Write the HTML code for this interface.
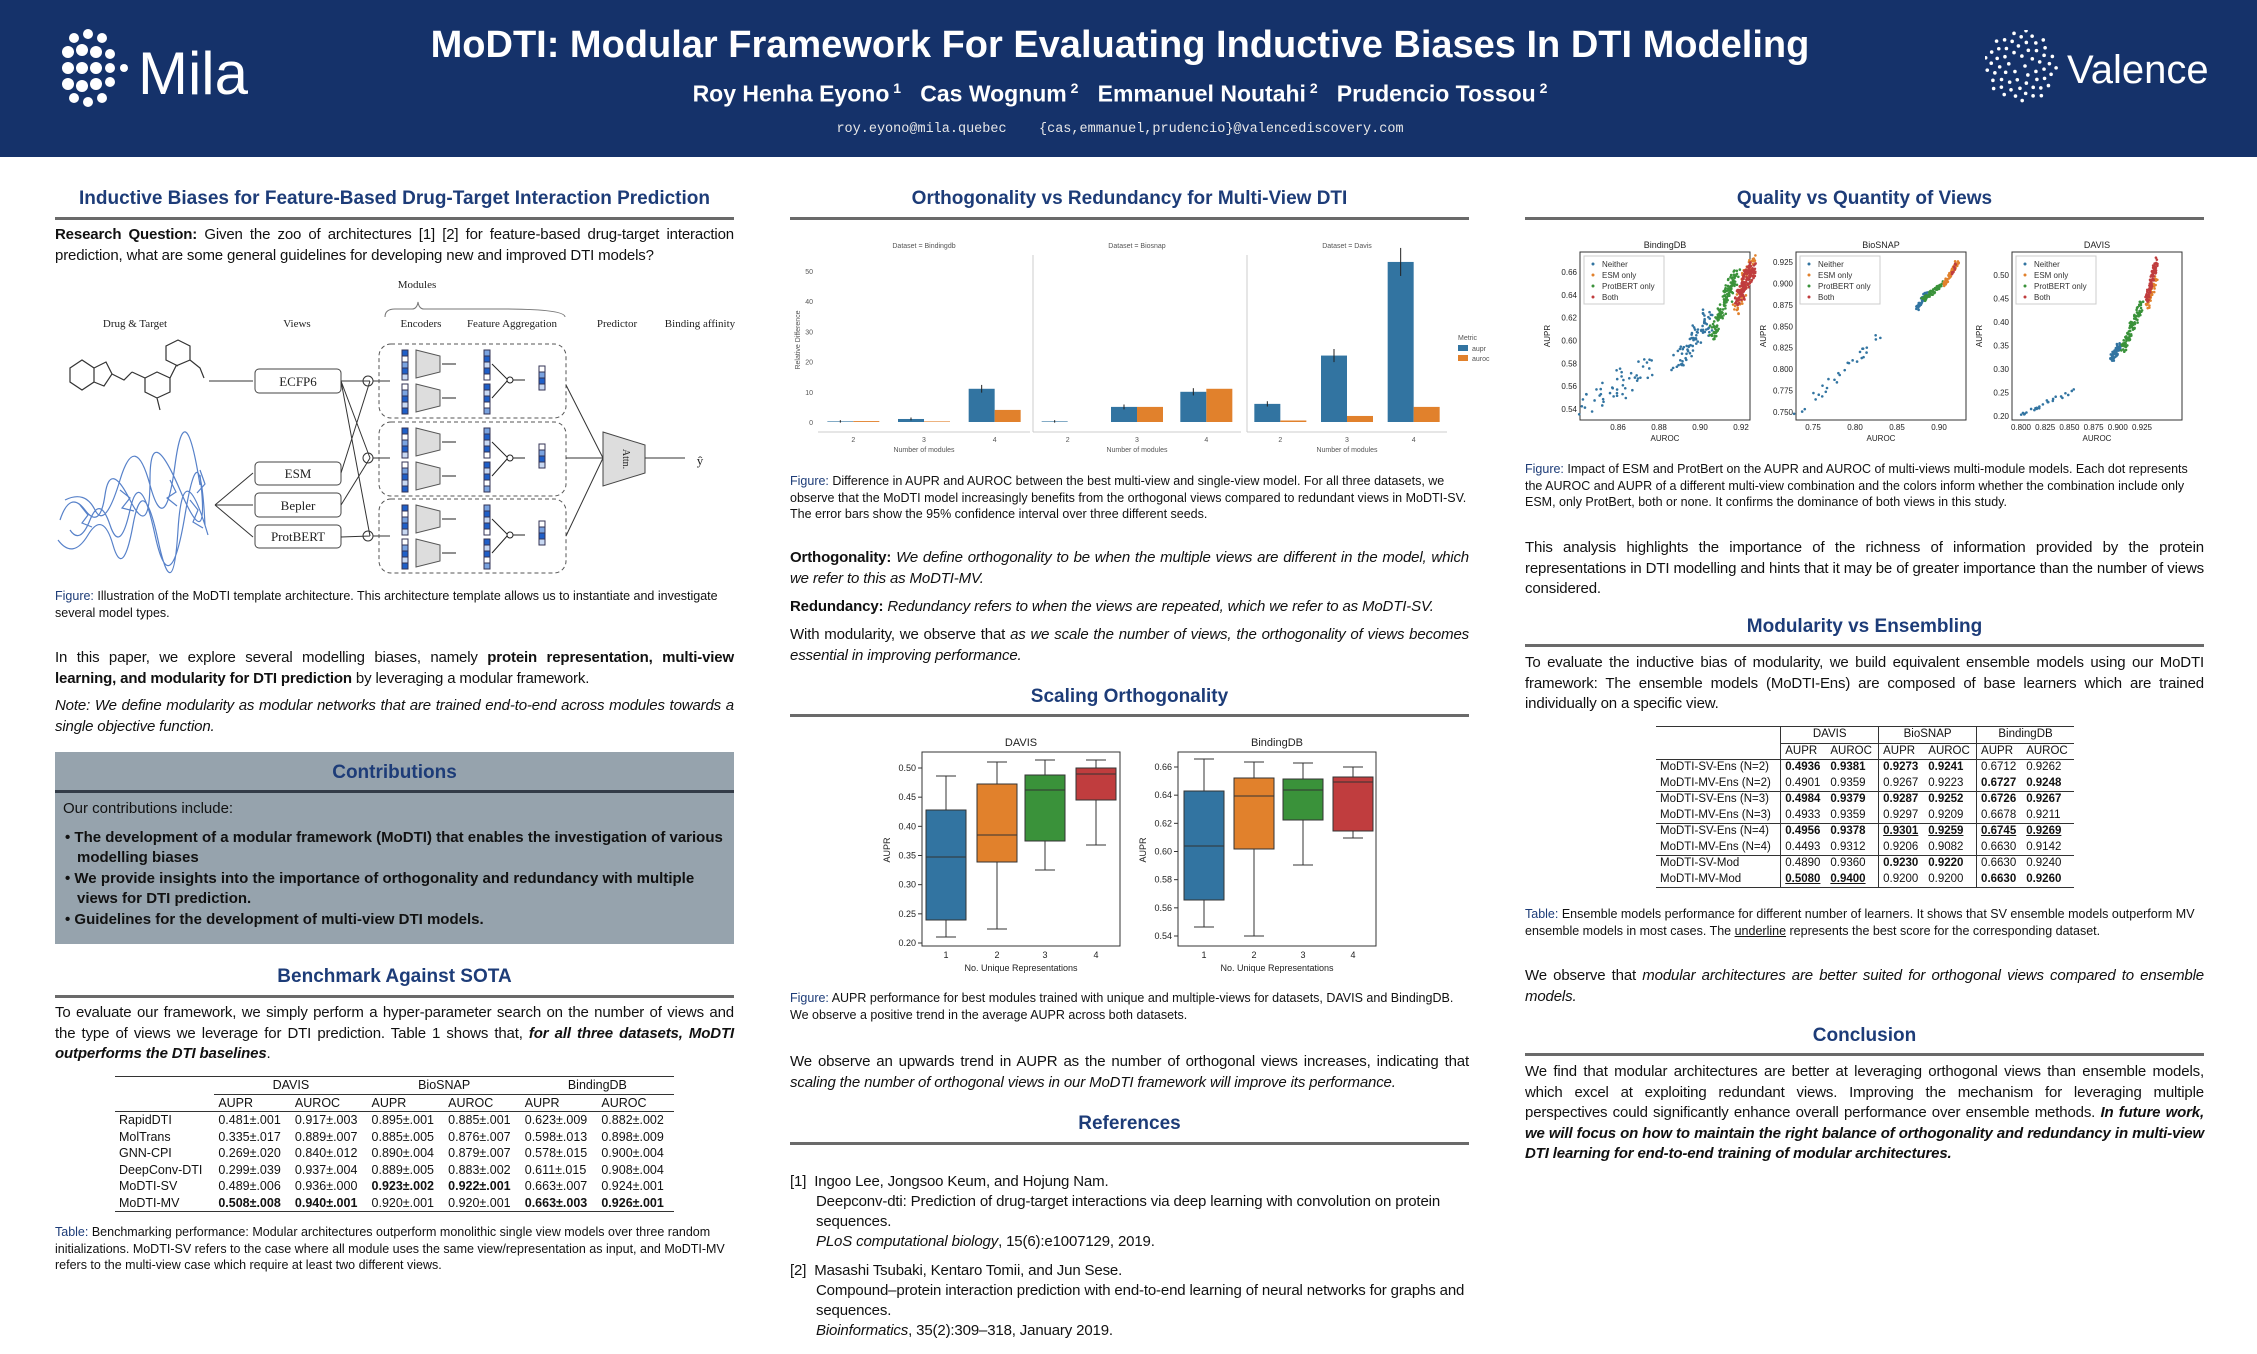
<!DOCTYPE html>
<html><head><meta charset="utf-8">
<style>
*{margin:0;padding:0;box-sizing:border-box}
body{width:2257px;height:1354px;background:#fff;position:relative;overflow:hidden;font-family:"Liberation Sans",sans-serif;color:#111}
.a{position:absolute}
#hdr{left:0;top:0;width:2257px;height:157px;background:#15326a}
.h2{position:absolute;font-weight:bold;font-size:19px;color:#1d3c78;text-align:center;white-space:nowrap}
.rule{position:absolute;height:3px;background:#6a6a6a}
.t{position:absolute;font-size:15px;letter-spacing:-0.15px;line-height:20.5px;text-align:justify}
.cap{position:absolute;font-size:12.5px;line-height:16.5px}
.cap b{color:#1d3c78;font-weight:normal}
table{border-collapse:collapse}
.tb td{padding:0 4px;white-space:nowrap}
</style></head><body>
<div id="hdr" class="a"></div>
<svg class="a" style="left:60px;top:26px" width="210" height="85">
<g fill="#fff">
<circle cx="14" cy="12" r="5"/><circle cx="28" cy="8" r="5"/><circle cx="42" cy="12" r="5"/>
<circle cx="8" cy="26" r="6"/><circle cx="22" cy="24" r="6"/><circle cx="36" cy="26" r="6"/><circle cx="50" cy="28" r="5"/>
<circle cx="8" cy="42" r="6"/><circle cx="22" cy="42" r="6"/><circle cx="36" cy="42" r="6"/><circle cx="50" cy="42" r="5"/><circle cx="64" cy="42" r="4"/>
<circle cx="8" cy="58" r="6"/><circle cx="22" cy="60" r="6"/><circle cx="36" cy="58" r="6"/><circle cx="50" cy="56" r="5"/>
<circle cx="14" cy="72" r="5"/><circle cx="28" cy="76" r="5"/><circle cx="42" cy="72" r="5"/>
</g>
<text x="78" y="68" fill="#fff" font-size="60" font-family="Liberation Sans">Mila</text>
</svg>
<div class="a" style="left:300px;top:24px;width:1640px;text-align:center;color:#fff;font-weight:bold;font-size:38px">MoDTI: Modular Framework For Evaluating Inductive Biases In DTI Modeling</div>
<div class="a" style="left:300px;top:80px;width:1640px;text-align:center;color:#fff;font-weight:bold;font-size:23px">Roy Henha Eyono<sup style="font-size:14px"> 1</sup> &nbsp; Cas Wognum<sup style="font-size:14px"> 2</sup> &nbsp; Emmanuel Noutahi<sup style="font-size:14px"> 2</sup> &nbsp; Prudencio Tossou<sup style="font-size:14px"> 2</sup></div>
<div class="a" style="left:300px;top:122px;width:1640px;text-align:center;color:#e8e8e8;font-family:'Liberation Mono',monospace;font-size:13.5px">roy.eyono@mila.quebec &nbsp;&nbsp;&nbsp;{cas,emmanuel,prudencio}@valencediscovery.com</div>
<svg class="a" style="left:1985px;top:30px" width="230" height="75" id="val">
<text x="82" y="53" fill="#fff" font-size="40" font-family="Liberation Sans">Valence</text>
</svg>

<div class="h2" style="left:55px;top:188px;width:679px">Inductive Biases for Feature-Based Drug-Target Interaction Prediction</div>
<div class="rule" style="left:55px;top:217px;width:679px"></div>
<div class="t" style="left:55px;top:225px;width:679px"><b>Research Question:</b> Given the zoo of architectures [1] [2] for feature-based drug-target interaction prediction, what are some general guidelines for developing new and improved DTI models?</div>
<svg class="a" style="left:55px;top:270px" width="680" height="320" font-family="Liberation Serif" font-size="11" fill="#222">
<g transform="translate(-55,-270)">
<text x="417" y="288" text-anchor="middle">Modules</text>
<path d="M385 317 Q385 309 395 309 L412 309 Q417 309 418 302 Q419 309 424 309 L500 309 Q565 309 565 317" fill="none" stroke="#777"/>
<g text-anchor="middle"><text x="135" y="327">Drug &amp; Target</text><text x="297" y="327">Views</text><text x="421" y="327">Encoders</text><text x="512" y="327">Feature Aggregation</text><text x="617" y="327">Predictor</text><text x="700" y="327">Binding affinity</text></g>
<g stroke="#333" fill="none" stroke-width="1.2"><path d="M70 368 L82 360 L94 368 L94 382 L82 390 L70 382 Z M94 368 L106 362 L112 374 L104 386 L94 382 M112 374 L124 380 L132 372 M132 372 L145 378 L145 392 L157 398 L170 392 L170 378 L157 372 L145 378 M170 378 L176 366 L190 360 L190 346 L178 340 L166 346 L166 360 L178 366 M190 360 L200 368 L204 378 M157 398 L160 410"/></g>
<g stroke="#3a6cc0" fill="none" stroke-width="1.2" opacity=".85">
<path d="M60 520 q10 -30 25 -10 t20 -15 t25 5 t20 -20 t30 10 t20 -15 M58 540 q15 20 30 -5 t25 10 t20 -20 t25 15 t20 -10 t30 5 M65 500 q20 -10 30 10 t25 -30 t30 5 t25 -20 t25 20 M70 530 q10 15 20 -10 t20 5 t20 -15 t25 25 t30 -20 t20 10"/>
<path d="M80 505 l8 10 l-6 8 l10 4 M120 490 l10 8 l-8 10 l12 3 M170 480 l6 12 l-9 6 l10 8 M190 500 l8 10 l-5 12 l10 6 M200 470 l5 14 l-8 9"/>
</g>
<g stroke="#444" fill="#fff" stroke-width="1"><rect x="255" y="369" width="86" height="24" rx="4"/><rect x="255" y="462" width="86" height="23" rx="4"/><rect x="255" y="493" width="86" height="24" rx="4"/><rect x="255" y="525" width="86" height="23" rx="4"/></g>
<g text-anchor="middle" font-size="13"><text x="298" y="386">ECFP6</text><text x="298" y="478">ESM</text><text x="298" y="510">Bepler</text><text x="298" y="541">ProtBERT</text></g>
<g stroke="#333" stroke-width="1" fill="none">
<path d="M209 381 L253 381 M215 505 L253 473 M215 505 L253 505 M215 505 L253 537"/>
<path d="M341 381 L370 381 M341 381 L370 458 M341 381 L370 536 M341 473 L370 381 M341 505 L370 458 M341 537 L370 536"/>
<circle cx="368" cy="381" r="5"/><circle cx="368" cy="458" r="5"/><circle cx="368" cy="536" r="5"/>
<path d="M373 381 L390 381 M373 458 L390 458 M373 536 L390 536"/>
</g>
<g stroke="#555" fill="none" stroke-dasharray="4,3"><rect x="379" y="344" width="187" height="74" rx="12"/><rect x="379" y="422" width="187" height="74" rx="12"/><rect x="379" y="499" width="187" height="74" rx="12"/></g>
<g id="enc"></g>
<g stroke="#333" fill="none"><path d="M566 385 L603 458 M566 458 L603 458 M566 536 L603 458 M645 458 L685 458"/></g>
<path d="M603 432 L645 445 L645 473 L603 486 Z" fill="#ddd" stroke="#444"/>
<text x="626" y="462" font-size="10" text-anchor="middle" transform="rotate(90 626 459)">Attn.</text>
<text x="700" y="465" font-size="13" text-anchor="middle">ŷ</text>
</g></svg>
<div class="cap" style="left:55px;top:588px;width:679px"><b>Figure:</b> Illustration of the MoDTI template architecture. This architecture template allows us to instantiate and investigate several model types.</div>
<div class="t" style="left:55px;top:648px;width:679px">In this paper, we explore several modelling biases, namely <b>protein representation, multi-view learning, and modularity for DTI prediction</b> by leveraging a modular framework.</div>
<div class="t" style="left:55px;top:696px;width:679px"><i>Note: We define modularity as modular networks that are trained end-to-end across modules towards a single objective function.</i></div>
<div class="a" style="left:55px;top:752px;width:679px;height:192px;background:#96a3ad"></div>
<div class="h2" style="left:55px;top:762px;width:679px">Contributions</div>
<div class="a" style="left:55px;top:790px;width:679px;height:3px;background:#333c48"></div>
<div class="a" style="left:63px;top:799px;width:665px;font-size:15px;line-height:20.5px">Our contributions include:
<div style="margin-top:8px;font-weight:bold;padding-left:14px;text-indent:-12px">• The development of a modular framework (MoDTI) that enables the investigation of various modelling biases</div>
<div style="font-weight:bold;padding-left:14px;text-indent:-12px">• We provide insights into the importance of orthogonality and redundancy with multiple views for DTI prediction.</div>
<div style="font-weight:bold;padding-left:14px;text-indent:-12px">• Guidelines for the development of multi-view DTI models.</div></div>
<div class="h2" style="left:55px;top:966px;width:679px">Benchmark Against SOTA</div>
<div class="rule" style="left:55px;top:995px;width:679px"></div>
<div class="t" style="left:55px;top:1003px;width:679px">To evaluate our framework, we simply perform a hyper-parameter search on the number of views and the type of views we leverage for DTI prediction. Table 1 shows that, <b><i>for all three datasets, MoDTI outperforms the DTI baselines</i></b>.</div>
<table class="a tb" style="left:115px;top:1076px;width:559px;font-size:12.5px;line-height:16.5px;border-top:1.5px solid #333;border-bottom:1.5px solid #333">
<tr><td></td><td colspan="2" style="text-align:center;border-bottom:1px solid #333">DAVIS</td><td colspan="2" style="text-align:center;border-bottom:1px solid #333">BioSNAP</td><td colspan="2" style="text-align:center;border-bottom:1px solid #333">BindingDB</td></tr>
<tr style="border-bottom:1px solid #333"><td></td><td>AUPR</td><td>AUROC</td><td>AUPR</td><td>AUROC</td><td>AUPR</td><td>AUROC</td></tr>
<tr><td>RapidDTI</td><td>0.481±.001</td><td>0.917±.003</td><td>0.895±.001</td><td>0.885±.001</td><td>0.623±.009</td><td>0.882±.002</td></tr>
<tr><td>MolTrans</td><td>0.335±.017</td><td>0.889±.007</td><td>0.885±.005</td><td>0.876±.007</td><td>0.598±.013</td><td>0.898±.009</td></tr>
<tr><td>GNN-CPI</td><td>0.269±.020</td><td>0.840±.012</td><td>0.890±.004</td><td>0.879±.007</td><td>0.578±.015</td><td>0.900±.004</td></tr>
<tr><td>DeepConv-DTI</td><td>0.299±.039</td><td>0.937±.004</td><td>0.889±.005</td><td>0.883±.002</td><td>0.611±.015</td><td>0.908±.004</td></tr>
<tr><td>MoDTI-SV</td><td>0.489±.006</td><td>0.936±.000</td><td><b>0.923±.002</b></td><td><b>0.922±.001</b></td><td>0.663±.007</td><td>0.924±.001</td></tr>
<tr><td>MoDTI-MV</td><td><b>0.508±.008</b></td><td><b>0.940±.001</b></td><td>0.920±.001</td><td>0.920±.001</td><td><b>0.663±.003</b></td><td><b>0.926±.001</b></td></tr>
</table>
<div class="cap" style="left:55px;top:1224px;width:679px"><b>Table:</b> Benchmarking performance: Modular architectures outperform monolithic single view models over three random initializations. MoDTI-SV refers to the case where all module uses the same view/representation as input, and MoDTI-MV refers to the multi-view case which require at least two different views.</div>

<div class="h2" style="left:790px;top:188px;width:679px">Orthogonality vs Redundancy for Multi-View DTI</div>
<div class="rule" style="left:790px;top:217px;width:679px"></div>
<svg class="a" style="left:0;top:0" width="2257" height="1354" id="main" font-family="Liberation Sans"></svg>
<div class="cap" style="left:790px;top:473px;width:679px"><b>Figure:</b> Difference in AUPR and AUROC between the best multi-view and single-view model. For all three datasets, we observe that the MoDTI model increasingly benefits from the orthogonal views compared to redundant views in MoDTI-SV. The error bars show the 95% confidence interval over three different seeds.</div>
<div class="t" style="left:790px;top:548px;width:679px"><b>Orthogonality:</b> <i>We define orthogonality to be when the multiple views are different in the model, which we refer to this as MoDTI-MV.</i></div>
<div class="t" style="left:790px;top:597px;width:679px;white-space:nowrap"><b>Redundancy:</b> <i>Redundancy refers to when the views are repeated, which we refer to as MoDTI-SV.</i></div>
<div class="t" style="left:790px;top:625px;width:679px">With modularity, we observe that <i>as we scale the number of views, the orthogonality of views becomes essential in improving performance.</i></div>
<div class="h2" style="left:790px;top:686px;width:679px">Scaling Orthogonality</div>
<div class="rule" style="left:790px;top:714px;width:679px"></div>
<div class="cap" style="left:790px;top:990px;width:679px"><b>Figure:</b> AUPR performance for best modules trained with unique and multiple-views for datasets, DAVIS and BindingDB. We observe a positive trend in the average AUPR across both datasets.</div>
<div class="t" style="left:790px;top:1052px;width:679px">We observe an upwards trend in AUPR as the number of orthogonal views increases, indicating that <i>scaling the number of orthogonal views in our MoDTI framework will improve its performance.</i></div>
<div class="h2" style="left:790px;top:1113px;width:679px">References</div>
<div class="rule" style="left:790px;top:1142px;width:679px"></div>
<div class="t" style="left:790px;top:1172px;width:679px;text-align:left;line-height:20px">[1]&nbsp; Ingoo Lee, Jongsoo Keum, and Hojung Nam.<div style="padding-left:26px">Deepconv-dti: Prediction of drug-target interactions via deep learning with convolution on protein sequences.<br><i>PLoS computational biology</i>, 15(6):e1007129, 2019.</div></div>
<div class="t" style="left:790px;top:1261px;width:679px;text-align:left;line-height:20px">[2]&nbsp; Masashi Tsubaki, Kentaro Tomii, and Jun Sese.<div style="padding-left:26px">Compound–protein interaction prediction with end-to-end learning of neural networks for graphs and sequences.<br><i>Bioinformatics</i>, 35(2):309–318, January 2019.</div></div>

<div class="h2" style="left:1525px;top:188px;width:679px">Quality vs Quantity of Views</div>
<div class="rule" style="left:1525px;top:217px;width:679px"></div>
<div class="cap" style="left:1525px;top:461px;width:679px"><b>Figure:</b> Impact of ESM and ProtBert on the AUPR and AUROC of multi-views multi-module models. Each dot represents the AUROC and AUPR of a different multi-view combination and the colors inform whether the combination include only ESM, only ProtBert, both or none. It confirms the dominance of both views in this study.</div>
<div class="t" style="left:1525px;top:538px;width:679px">This analysis highlights the importance of the richness of information provided by the protein representations in DTI modelling and hints that it may be of greater importance than the number of views considered.</div>
<div class="h2" style="left:1525px;top:616px;width:679px">Modularity vs Ensembling</div>
<div class="rule" style="left:1525px;top:644px;width:679px"></div>
<div class="t" style="left:1525px;top:653px;width:679px">To evaluate the inductive bias of modularity, we build equivalent ensemble models using our MoDTI framework: The ensemble models (MoDTI-Ens) are composed of base learners which are trained individually on a specific view.</div>
<table class="a tb" style="left:1656px;top:726px;width:418px;font-size:11.5px;line-height:15.5px;border-top:1.5px solid #333;border-bottom:1.5px solid #333">
<tr><td></td><td colspan="2" style="text-align:center;border-left:1px solid #333;border-bottom:1px solid #333">DAVIS</td><td colspan="2" style="text-align:center;border-left:1px solid #333;border-bottom:1px solid #333">BioSNAP</td><td colspan="2" style="text-align:center;border-left:1px solid #333;border-bottom:1px solid #333">BindingDB</td></tr>
<tr style="border-bottom:1px solid #333"><td></td><td style="border-left:1px solid #333">AUPR</td><td>AUROC</td><td style="border-left:1px solid #333">AUPR</td><td>AUROC</td><td style="border-left:1px solid #333">AUPR</td><td>AUROC</td></tr>
<tr><td>MoDTI-SV-Ens (N=2)</td><td style="border-left:1px solid #333"><b>0.4936</b></td><td><b>0.9381</b></td><td style="border-left:1px solid #333"><b>0.9273</b></td><td><b>0.9241</b></td><td style="border-left:1px solid #333">0.6712</td><td>0.9262</td></tr>
<tr style="border-bottom:1px solid #333"><td>MoDTI-MV-Ens (N=2)</td><td style="border-left:1px solid #333">0.4901</td><td>0.9359</td><td style="border-left:1px solid #333">0.9267</td><td>0.9223</td><td style="border-left:1px solid #333"><b>0.6727</b></td><td><b>0.9248</b></td></tr>
<tr><td>MoDTI-SV-Ens (N=3)</td><td style="border-left:1px solid #333"><b>0.4984</b></td><td><b>0.9379</b></td><td style="border-left:1px solid #333"><b>0.9287</b></td><td><b>0.9252</b></td><td style="border-left:1px solid #333"><b>0.6726</b></td><td><b>0.9267</b></td></tr>
<tr style="border-bottom:1px solid #333"><td>MoDTI-MV-Ens (N=3)</td><td style="border-left:1px solid #333">0.4933</td><td>0.9359</td><td style="border-left:1px solid #333">0.9297</td><td>0.9209</td><td style="border-left:1px solid #333">0.6678</td><td>0.9211</td></tr>
<tr><td>MoDTI-SV-Ens (N=4)</td><td style="border-left:1px solid #333"><b>0.4956</b></td><td><b>0.9378</b></td><td style="border-left:1px solid #333"><b><u>0.9301</u></b></td><td><b><u>0.9259</u></b></td><td style="border-left:1px solid #333"><b><u>0.6745</u></b></td><td><b><u>0.9269</u></b></td></tr>
<tr style="border-bottom:1px solid #333"><td>MoDTI-MV-Ens (N=4)</td><td style="border-left:1px solid #333">0.4493</td><td>0.9312</td><td style="border-left:1px solid #333">0.9206</td><td>0.9082</td><td style="border-left:1px solid #333">0.6630</td><td>0.9142</td></tr>
<tr><td>MoDTI-SV-Mod</td><td style="border-left:1px solid #333">0.4890</td><td>0.9360</td><td style="border-left:1px solid #333"><b>0.9230</b></td><td><b>0.9220</b></td><td style="border-left:1px solid #333">0.6630</td><td>0.9240</td></tr>
<tr><td>MoDTI-MV-Mod</td><td style="border-left:1px solid #333"><b><u>0.5080</u></b></td><td><b><u>0.9400</u></b></td><td style="border-left:1px solid #333">0.9200</td><td>0.9200</td><td style="border-left:1px solid #333"><b>0.6630</b></td><td><b>0.9260</b></td></tr>
</table>
<div class="cap" style="left:1525px;top:906px;width:679px"><b>Table:</b> Ensemble models performance for different number of learners. It shows that SV ensemble models outperform MV ensemble models in most cases. The <u>underline</u> represents the best score for the corresponding dataset.</div>
<div class="t" style="left:1525px;top:966px;width:679px">We observe that <i>modular architectures are better suited for orthogonal views compared to ensemble models.</i></div>
<div class="h2" style="left:1525px;top:1025px;width:679px">Conclusion</div>
<div class="rule" style="left:1525px;top:1053px;width:679px"></div>
<div class="t" style="left:1525px;top:1062px;width:679px">We find that modular architectures are better at leveraging orthogonal views than ensemble models, which excel at exploiting redundant views. Improving the mechanism for leveraging multiple perspectives could significantly enhance overall performance over ensemble methods. <b><i>In future work, we will focus on how to maintain the right balance of orthogonality and redundancy in multi-view DTI learning for end-to-end training of modular architectures.</i></b></div>

<script>
var NS="http://www.w3.org/2000/svg";
function el(p,t,a,txt){var e=document.createElementNS(NS,t);for(var k in a)e.setAttribute(k,a[k]);if(txt!=null)e.textContent=txt;p.appendChild(e);return e;}
var M=document.getElementById('main');
var B="#3274a1",O="#e1812c",G="#3a923a",R="#c03d3e";
var V=document.getElementById('val');
for(var i=0;i<60;i++){var a=i*2.4,r=4+Math.sqrt(i)*4.2;el(V,'circle',{cx:36+r*Math.cos(a),cy:36+r*Math.sin(a),r:1.8,fill:'#fff'});}
var E=document.getElementById('enc'),cols=['#1f5fc8','#fff','#7aa3e0','#1f5fc8','#c8d8f2'];
[344,422,499].forEach(function(y0){
 for(var k=0;k<2;k++){var yy=y0+6+k*34;
  for(var j=0;j<5;j++)el(E,'rect',{x:402,y:yy+j*6,width:6,height:6,fill:cols[(j+k)%5],stroke:'#335'});
  el(E,'path',{d:'M416 '+(yy)+' L440 '+(yy+6)+' L440 '+(yy+22)+' L416 '+(yy+28)+'Z',fill:'#ddd',stroke:'#555'});
  el(E,'path',{d:'M442 '+(yy+14)+' L456 '+(yy+14),stroke:'#222'});
  for(var j=0;j<5;j++)el(E,'rect',{x:484,y:yy+j*6,width:6,height:6,fill:cols[(j+k+2)%5],stroke:'#335'});}
 el(E,'path',{d:'M492 '+(y0+20)+' L508 '+(y0+36)+' L492 '+(y0+54)+' M512 '+(y0+36)+' L525 '+(y0+36),stroke:'#222',fill:'none'});
 el(E,'circle',{cx:510,cy:y0+36,r:3,fill:'#fff',stroke:'#222'});
 for(var j=0;j<4;j++)el(E,'rect',{x:539,y:y0+22+j*6,width:6,height:6,fill:cols[(j+1)%5],stroke:'#335'});
});
var panels=[[818,1030,'Dataset = Bindingdb',[[.2,.3],[1,.2],[11,4]]],[1033,1241,'Dataset = Biosnap',[[.2,0],[5,5],[10,11]]],[1247,1447,'Dataset = Davis',[[6,.5],[22,2],[53,5]]]];
function yb(v){return 422-v*3.02;}
panels.forEach(function(p,pi){
 if(pi>0)el(M,'line',{x1:p[0],y1:255,x2:p[0],y2:432,stroke:'#ccc'});
 el(M,'text',{x:(p[0]+p[1])/2,y:248,'text-anchor':'middle','font-size':7,fill:'#555'},p[2]);
 el(M,'line',{x1:p[0],y1:432,x2:p[1],y2:432,stroke:'#ccc'});
 el(M,'text',{x:(p[0]+p[1])/2,y:452,'text-anchor':'middle','font-size':7,fill:'#555'},'Number of modules');
 var w=(p[1]-p[0])/3;
 p[3].forEach(function(d,ci){var cx=p[0]+w*(ci+0.5);
  el(M,'rect',{x:cx-26,y:yb(d[0]),width:26,height:d[0]*3.02,fill:B});
  el(M,'rect',{x:cx,y:yb(d[1]),width:26,height:d[1]*3.02,fill:O});
  el(M,'line',{x1:cx-13,y1:yb(d[0]*1.08+.4),x2:cx-13,y2:yb(d[0]*0.92-.4),stroke:'#222'});
  el(M,'text',{x:cx,y:442,'text-anchor':'middle','font-size':7,fill:'#555'},ci+2);});
});
[0,10,20,30,40,50].forEach(function(v){el(M,'text',{x:813,y:yb(v)+3,'text-anchor':'end','font-size':7,fill:'#555'},v);});
el(M,'text',{x:800,y:340,'font-size':7,fill:'#555',transform:'rotate(-90 800 340)','text-anchor':'middle'},'Relative Difference');
el(M,'text',{x:1458,y:340,'font-size':7,fill:'#555'},'Metric');
el(M,'rect',{x:1458,y:345,width:10,height:6,fill:B});el(M,'text',{x:1472,y:351,'font-size':7,fill:'#555'},'aupr');
el(M,'rect',{x:1458,y:355,width:10,height:6,fill:O});el(M,'text',{x:1472,y:361,'font-size':7,fill:'#555'},'auroc');
function bp(fx,title,ticks,ty0,ty1,boxes){
 el(M,'rect',{x:fx,y:752,width:198,height:194,fill:'none',stroke:'#333'});
 el(M,'text',{x:fx+99,y:746,'text-anchor':'middle','font-size':11,fill:'#222'},title);
 ticks.forEach(function(t,i){var y=ty0+(ty1-ty0)*i/(ticks.length-1);el(M,'line',{x1:fx-4,y1:y,x2:fx,y2:y,stroke:'#333'});el(M,'text',{x:fx-6,y:y+3,'text-anchor':'end','font-size':9,fill:'#222'},t);});
 el(M,'text',{x:fx-32,y:850,'font-size':9,fill:'#222',transform:'rotate(-90 '+(fx-32)+' 850)','text-anchor':'middle'},'AUPR');
 var cs=[B,O,G,R];
 boxes.forEach(function(b,i){var cx=b[0]+20;
  el(M,'line',{x1:cx,y1:b[4],x2:cx,y2:b[1],stroke:'#333'});el(M,'line',{x1:cx,y1:b[2],x2:cx,y2:b[5],stroke:'#333'});
  el(M,'line',{x1:cx-10,y1:b[4],x2:cx+10,y2:b[4],stroke:'#333'});el(M,'line',{x1:cx-10,y1:b[5],x2:cx+10,y2:b[5],stroke:'#333'});
  el(M,'rect',{x:b[0],y:b[1],width:40,height:b[2]-b[1],fill:cs[i],stroke:'#333'});
  el(M,'line',{x1:b[0],y1:b[3],x2:b[0]+40,y2:b[3],stroke:'#333'});
  el(M,'text',{x:cx,y:958,'text-anchor':'middle','font-size':9,fill:'#222'},i+1);});
 el(M,'text',{x:fx+99,y:971,'text-anchor':'middle','font-size':9,fill:'#222'},'No. Unique Representations');
}
bp(922,'DAVIS',['0.50','0.45','0.40','0.35','0.30','0.25','0.20'],768,943,[[926,810,920,857,776,937],[977,784,862,835,762,929],[1025,775,841,790,760,870],[1076,768,800,774,760,845]]);
bp(1178,'BindingDB',['0.66','0.64','0.62','0.60','0.58','0.56','0.54'],767,936,[[1184,791,900,846,759,927],[1234,778,849,796,762,936],[1283,779,820,790,763,865],[1333,777,831,782,767,838]]);
var seed=7;function rnd(){seed=(seed*16807)%2147483647;return seed/2147483647;}
function sc(fx,title,xt,xp,yt,yp,groups){
 el(M,'rect',{x:fx,y:252,width:170,height:168,fill:'none',stroke:'#333'});
 el(M,'text',{x:fx+85,y:248,'text-anchor':'middle','font-size':9,fill:'#222'},title);
 var xa=xp[0],xb=xp[1],va=xt[0],vb=xt[xt.length-1];
 xt.forEach(function(v,i){var x=xa+(xb-xa)*i/(xt.length-1);el(M,'text',{x:x,y:430,'text-anchor':'middle','font-size':8,fill:'#222'},v.toFixed(xt[0]<0.82&&title=='DAVIS'?3:2));});
 yt.forEach(function(v,i){var y=yp[0]+(yp[1]-yp[0])*i/(yt.length-1);el(M,'text',{x:fx-3,y:y+3,'text-anchor':'end','font-size':8,fill:'#222'},v.toFixed(title=='BioSNAP'?3:2));});
 el(M,'text',{x:fx+85,y:441,'text-anchor':'middle','font-size':8,fill:'#222'},'AUROC');
 el(M,'text',{x:fx-30,y:336,'font-size':8,fill:'#222',transform:'rotate(-90 '+(fx-30)+' 336)','text-anchor':'middle'},'AUPR');
 function X(v){return xa+(v-va)/(vb-va)*(xb-xa);}
 var ya=yt[0],yb2=yt[yt.length-1];function Y(v){return yp[0]+(v-ya)/(yb2-ya)*(yp[1]-yp[0]);}
 groups.forEach(function(g){for(var i=0;i<g[5];i++){var t=rnd(),u=rnd()-.5,w=rnd()-.5;
  var x=g[1]+(g[2]-g[1])*t+w*g[6],y=g[3]+(g[4]-g[3])*t+u*g[7];
  el(M,'circle',{cx:X(x),cy:Y(y),r:1.3,fill:g[0]});}});
 el(M,'rect',{x:fx+4,y:256,width:80,height:48,fill:'#fff',stroke:'#ccc'});
 [['Neither',B],['ESM only',O],['ProtBERT only',G],['Both',R]].forEach(function(l,i){el(M,'circle',{cx:fx+13,cy:264+i*11,r:1.5,fill:l[1]});el(M,'text',{x:fx+22,y:267+i*11,'font-size':8,fill:'#333'},l[0]);});
}
sc(1580,'BindingDB',[0.86,0.88,0.90,0.92],[1618,1741],[0.66,0.64,0.62,0.60,0.58,0.56,0.54],[272,409],
 [[B,.845,.875,.54,.58,50,.01,.02],[B,.888,.905,.58,.62,80,.006,.02],[G,.906,.918,.605,.66,140,.004,.015],[O,.918,.926,.63,.67,80,.004,.015],[R,.918,.926,.635,.665,150,.004,.012]]);
sc(1796,'BioSNAP',[0.75,0.80,0.85,0.90],[1813,1939],[0.925,0.900,0.875,0.850,0.825,0.800,0.775,0.750],[262,412],
 [[B,.73,.83,.748,.838,30,.01,.01],[B,.873,.885,.87,.888,60,.004,.006],[G,.88,.905,.88,.90,60,.004,.006],[O,.905,.922,.897,.925,60,.004,.005],[R,.915,.922,.91,.925,10,.003,.004]]);
sc(2012,'DAVIS',[0.800,0.825,0.850,0.875,0.900,0.925],[2021,2142],[0.50,0.45,0.40,0.35,0.30,0.25,0.20],[275,416],
 [[B,.80,.855,.205,.255,25,.005,.01],[B,.893,.902,.32,.35,70,.004,.015],[G,.905,.925,.34,.44,100,.005,.02],[O,.93,.94,.43,.50,40,.003,.02],[R,.93,.94,.45,.53,90,.003,.02]]);
</script>
</body></html>
